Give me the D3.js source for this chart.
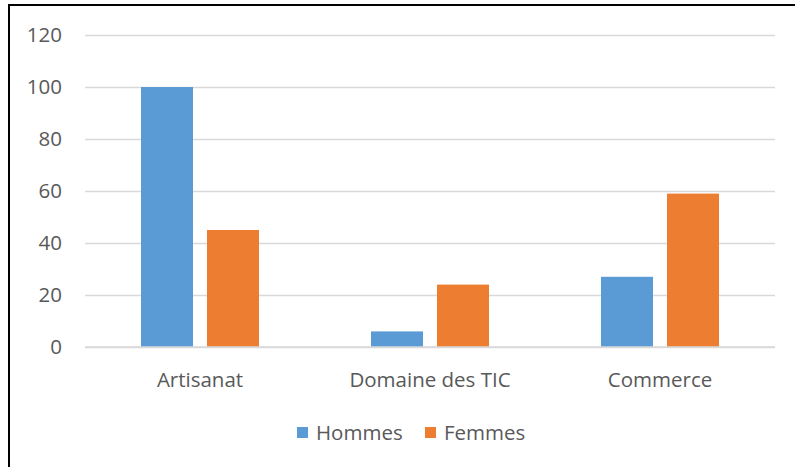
<!DOCTYPE html>
<html><head><meta charset="utf-8">
<script src="https://cdn.jsdelivr.net/npm/d3@7"></script>
<style>body{margin:0;background:#fff}svg{display:block}text{font-family:"Open Sans",sans-serif;fill:#595959}</style>
</head><body>
<svg id="c" width="795" height="467"></svg>
<script>
const categories = ["Artisanat", "Domaine des TIC", "Commerce"];
const seriesNames = ["Hommes", "Femmes"];
const hommes = [100, 6, 27];
const femmes = [45, 24, 59];
const yTicks = [0, 20, 40, 60, 80, 100, 120];
const colors = ["#5B9BD5", "#ED7D31"];

const svg = d3.select("#c");
// frame
svg.append("rect").attr("x", 9).attr("y", 5).attr("width", 830).attr("height", 490)
  .attr("fill", "none").attr("stroke", "#000").attr("stroke-width", 2);

const x0 = 85, x1 = 775;
const y = d3.scaleLinear().domain([0, 120]).range([347, 35]);
const x = d3.scaleBand().domain(categories).range([x0, x1]);
const xs = d3.scaleBand().domain(seriesNames).range([0, 118]).paddingInner(14/66);

const fs = 20.5;
// grid
const yAxis = d3.axisLeft(y).tickValues(yTicks).tickSize(-(x1 - x0)).tickPadding(23);
const ga = svg.append("g").attr("transform", `translate(${x0},0)`).call(yAxis);
ga.select(".domain").remove();
ga.selectAll(".tick line").attr("stroke", "#d9d9d9").attr("stroke-width", 1.3);
ga.selectAll(".tick text").attr("font-size", fs).style("font-family", '"Open Sans",sans-serif').attr("fill", "#595959");

const data = categories.map((c, i) => ({c, vals: [hommes[i], femmes[i]]}));
const g = svg.append("g");
data.forEach(d => {
  d.vals.forEach((v, j) => {
    const cx = x(d.c) + x.bandwidth() / 2 - 59;
    g.append("rect")
      .attr("x", cx + xs(seriesNames[j]))
      .attr("y", y(v))
      .attr("width", xs.bandwidth())
      .attr("height", y(0) - y(v))
      .attr("fill", colors[j]);
  });
});
// baseline
svg.append("line").attr("x1", x0).attr("x2", x1).attr("y1", y(0)).attr("y2", y(0))
  .attr("stroke", "#d9d9d9").attr("stroke-width", 1.3);

const xAxis = d3.axisBottom(x).tickSize(0).tickPadding(25);
const gx = svg.append("g").attr("transform", `translate(0,${y(0)})`).call(xAxis);
gx.select(".domain").remove();
gx.selectAll(".tick text").attr("font-size", fs).style("font-family", '"Open Sans",sans-serif').attr("fill", "#595959");

// legend
const legX = [297, 425];
seriesNames.forEach((s, j) => {
  svg.append("rect").attr("x", legX[j]).attr("y", 427).attr("width", 11).attr("height", 11).attr("fill", colors[j]);
  svg.append("text").attr("x", legX[j] + 19).attr("y", 440).attr("font-size", fs).text(s);
});
</script>
</body></html>
